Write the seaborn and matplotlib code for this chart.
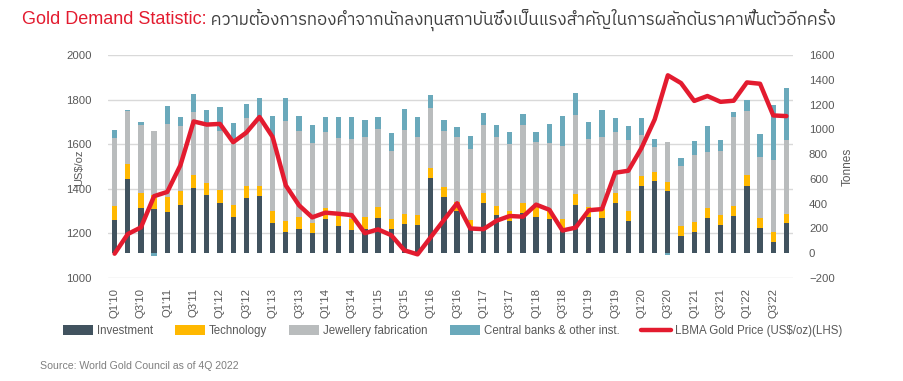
import numpy as np
import seaborn as sns
import matplotlib.pyplot as plt
from matplotlib.patches import Patch
from matplotlib.lines import Line2D
from matplotlib import font_manager
from matplotlib.ft2font import FT2Font

# quarter labels Q1'10 .. Q4'22
quarters = [f"Q{q}'{y}" for y in range(10, 23) for q in range(1, 5)]
tick_labels = [q if q[1] in "13" else "" for q in quarters]

# demand components (tonnes)
investment = [268, 601, 367, 354, 335, 386, 526, 472, 408, 295, 448, 462,
              246, 171, 195, 161, 278, 219, 185, 195, 287, 193, 236, 228,
              607, 454, 341, 193, 408, 308, 257, 322, 290, 274, 187, 389,
              295, 287, 405, 260, 545, 585, 499, 141, 171, 287, 225, 298,
              545, 203, 90, 241]
technology = [115, 119, 116, 116, 116, 116, 108, 97, 102, 91, 94, 83,
              92, 91, 95, 80, 87, 81, 93, 95, 88, 85, 83, 80,
              81, 78, 75, 78, 75, 75, 84, 86, 85, 83, 89, 89,
              75, 70, 83, 81, 78, 70, 78, 81, 83, 80, 83, 83,
              84, 84, 81, 73]
jewellery = [549, 425, 549, 519, 592, 524, 505, 474, 479, 511, 549, 562,
             608, 807, 694, 646, 616, 630, 644, 650, 625, 549, 675, 632,
             484, 457, 519, 567, 549, 552, 540, 627, 522, 530, 592, 637,
             549, 578, 487, 573, 331, 205, 320, 482, 538, 452, 517, 721,
             519, 487, 581, 600]
central_banks = [62, 11, 27, -20, 145, 71, 146, 113, 194, 156, 113, 148,
                 161, 183, 123, 150, 116, 167, 180, 135, 97, 141, 167, 162,
                 107, 86, 86, 108, 97, 97, 100, 88, 81, 153, 239, 175,
                 142, 223, 114, 112, 135, 59, -12, 62, 116, 207, 89, 35,
                 86, 186, 444, 417]

# LBMA gold price (US$/oz)
gold_price = [1109, 1197, 1227, 1367, 1386, 1506, 1702, 1688, 1691, 1609, 1652, 1722,
              1632, 1415, 1326, 1272, 1293, 1288, 1282, 1201, 1218, 1192, 1124, 1106,
              1183, 1260, 1335, 1222, 1219, 1257, 1278, 1275, 1329, 1306, 1213, 1226,
              1304, 1309, 1472, 1481, 1583, 1711, 1909, 1874, 1794, 1816, 1790, 1795,
              1877, 1871, 1729, 1726]

series_names = ["Investment", "Technology", "Jewellery fabrication", "Central banks & other inst."]
colors = ["#41535f", "#ffb800", "#b9bcbd", "#6aa9bb"]
red = "#e31b2f"
text_col = "#595959"


def find_font_with(ch):
    # look for any installed font with the glyph, 'Thai' names first
    fonts = sorted(font_manager.fontManager.ttflist, key=lambda f: "Thai" not in f.name)
    for f in fonts:
        try:
            if ord(ch) in FT2Font(f.fname).get_charmap():
                return f.name
        except Exception:
            pass
    return "DejaVu Sans"


sns.set_theme(style="white")
base_font = "Liberation Sans"
thai_font = find_font_with("ก")
plt.rcParams["font.family"] = [base_font, "DejaVu Sans"]

fig = plt.figure(figsize=(9.04, 3.81), dpi=100)
ax = fig.add_axes([108 / 904, 1 - 278 / 381, 685 / 904, 223 / 381])
ax_bar = ax.twinx()
ax_line = ax.twinx()

# stacked bars on the right (tonnes) axis
pos_bottom = np.zeros(len(quarters))
for name, vals, c in zip(series_names, [investment, technology, jewellery, central_banks], colors):
    vals = np.array(vals, dtype=float)
    b = np.where(vals >= 0, pos_bottom, 0)
    sns.barplot(x=quarters, y=vals, order=quarters, color=c, saturation=1,
                width=0.4, errorbar=None, bottom=b, linewidth=0, ax=ax_bar)
    pos_bottom = pos_bottom + np.clip(vals, 0, None)

# gold price line
sns.lineplot(x=np.arange(len(quarters)), y=gold_price, color=red, linewidth=3.2,
             ax=ax_line, solid_joinstyle="round", solid_capstyle="round")

ax.set_ylim(1000, 2000)
ax.set_yticks(range(1000, 2001, 200))
ax_line.set_ylim(1000, 2000)
ax_line.set_yticks([])
ax_bar.set_ylim(-200, 1600)
ax_bar.set_yticks(range(-200, 1601, 200))
for a in (ax, ax_bar, ax_line):
    a.set_xlim(-0.5, len(quarters) - 0.5)
    for s in a.spines.values():
        s.set_visible(False)
    a.set_ylabel("")

ax.yaxis.grid(True, color="#d9d9d9", linewidth=1)
ax.xaxis.grid(False)
ax.set_axisbelow(True)

ax.set_xticks(range(len(quarters)))
ax.set_xticklabels(tick_labels, rotation=90)
ax.tick_params(axis="x", length=0, pad=7, labelsize=8.2, labelcolor=text_col)
ax.tick_params(axis="y", length=0, pad=11.5, labelsize=8.2, labelcolor=text_col)
ax_bar.tick_params(axis="y", length=0, pad=11.5, labelsize=8.2, labelcolor=text_col)

fig.text(79 / 904, 1 - 168 / 381, "US$/oz", rotation=90, ha="center", va="center",
         fontsize=8, color=text_col)
fig.text(848 / 904, 1 - 167 / 381, "Tonnes", rotation=90, ha="center", va="center",
         fontsize=8.6, color=text_col)

# legend
handles = [Patch(facecolor=c, edgecolor="none") for c in colors]
handles.append(Line2D([], [], color=red, linewidth=3.2))
labels = series_names + ["LBMA Gold Price (US$/oz)(LHS)"]
fig.legend(handles, labels, loc="center left", bbox_to_anchor=(63 / 904, 1 - 331 / 381),
           ncol=5, frameon=False, fontsize=8.3, handlelength=2.6, handleheight=0.9,
           handletextpad=0.35, columnspacing=1.9, borderaxespad=0, borderpad=0,
           labelcolor=text_col)

# title
t1 = fig.text(22 / 904, 1 - 20 / 381, "Gold Demand Statistic:", color=red,
              fontsize=13, va="center", ha="left")
ax.annotate(" ความต้องการทองคำจากนักลงทุนสถาบันซึ่งเป็นแรงสำคัญในการผลักดันราคาฟื้นตัวอีกครั้ง",
            xy=(1, 0.5), xycoords=t1, va="center", ha="left", fontsize=12.2,
            color="#404040", family=[base_font, thai_font], annotation_clip=False)

fig.text(40 / 904, 1 - 366 / 381, "Source: World Gold Council as of 4Q 2022",
         fontsize=7.6, color="#7f7f7f", va="center")

fig.savefig("out.png", dpi=100)
